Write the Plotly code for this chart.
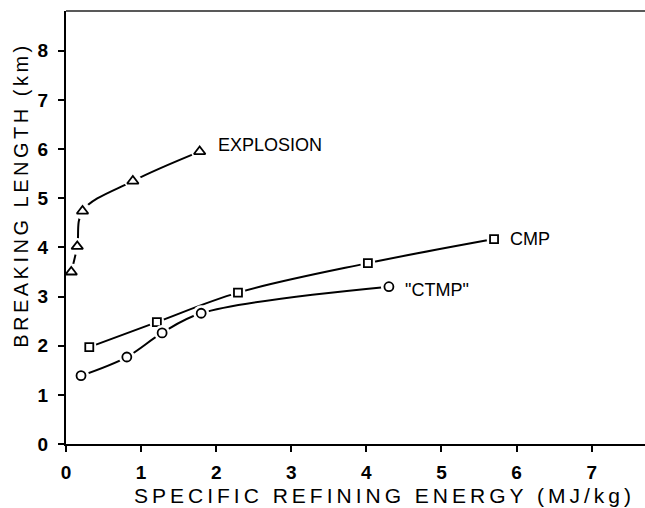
import plotly.graph_objects as go

# ---- data ----
explosion_x = [0.07, 0.15, 0.22, 0.89, 1.78]
explosion_y = [3.50, 4.02, 4.74, 5.35, 5.95]

cmp_x = [0.31, 1.21, 2.29, 4.02, 5.70]
cmp_y = [1.97, 2.48, 3.08, 3.68, 4.17]

ctmp_x = [0.20, 0.81, 1.28, 1.80, 4.30]
ctmp_y = [1.39, 1.77, 2.26, 2.66, 3.20]

series_names = ["EXPLOSION", "CMP", '"CTMP"']
label_x = [2.00, 5.89, 4.49]
label_y = [6.08, 4.17, 3.14]

x_ticks = [0, 1, 2, 3, 4, 5, 6, 7]
y_ticks = [0, 1, 2, 3, 4, 5, 6, 7, 8]

x_title = "SPECIFIC REFINING ENERGY (MJ/kg)"
y_title = "BREAKING LENGTH (km)"

FONT = "Liberation Sans, Arial, sans-serif"

fig = go.Figure()

series = [
    (explosion_x, explosion_y, "triangle-up-open", 10),
    (cmp_x, cmp_y, "square-open", 8),
    (ctmp_x, ctmp_y, "circle-open", 9),
]

for (xs, ys, sym, sz), name in zip(series, series_names):
    # smooth curve
    fig.add_trace(go.Scatter(x=xs, y=ys, mode="lines", name=name,
                             line=dict(color="black", width=2, shape="spline", smoothing=1.0),
                             showlegend=False, hoverinfo="skip"))
    # white halo to produce the gap around each symbol
    fig.add_trace(go.Scatter(x=xs, y=ys, mode="markers",
                             marker=dict(symbol="circle", size=sz + 7, color="white",
                                         line=dict(width=0)),
                             showlegend=False, hoverinfo="skip"))
    # open symbol
    fig.add_trace(go.Scatter(x=xs, y=ys, mode="markers", name=name,
                             marker=dict(symbol=sym, size=sz, color="black",
                                         line=dict(width=1.8, color="black")),
                             showlegend=False))

for name, lx, ly in zip(series_names, label_x, label_y):
    fig.add_annotation(x=lx, y=ly, text=name, showarrow=False,
                       xanchor="left", yanchor="middle",
                       font=dict(family=FONT, size=18, color="black"))

# axis titles
fig.add_annotation(x=0.55, y=-0.12, xref="paper", yref="paper", text=x_title,
                   showarrow=False, xanchor="center", yanchor="middle",
                   font=dict(family=FONT, size=21, color="black"))
fig.add_annotation(x=-0.078, y=0.575, xref="paper", yref="paper", text=y_title,
                   showarrow=False, textangle=-90, xanchor="center", yanchor="middle",
                   font=dict(family=FONT, size=20, color="black"))

# top border line
fig.add_shape(type="line", xref="paper", yref="paper", x0=0, x1=1, y0=1, y1=1,
              line=dict(color="#222222", width=1.5))

axis_common = dict(showgrid=False, zeroline=False, showline=True, linecolor="black",
                   linewidth=2, ticks="outside", ticklen=6, tickwidth=2, tickcolor="black",
                   tickfont=dict(family=FONT, size=19, color="black", weight="bold"))

fig.update_xaxes(range=[0, 7.71], tickvals=x_ticks, ticklabelstandoff=4, **axis_common)
fig.update_yaxes(range=[0, 8.81], tickvals=y_ticks, ticklabelstandoff=6, **axis_common)

fig.update_layout(width=645, height=508,
                  margin=dict(l=66, r=0, t=11, b=64),
                  paper_bgcolor="white", plot_bgcolor="white",
                  showlegend=False)

js = """
document.querySelectorAll('text.annotation-text').forEach(function(t){
  var s = t.textContent;
  if (s.indexOf('SPECIFIC') === 0) { t.style.letterSpacing = '4px'; }
  if (s.indexOf('BREAKING') === 0) { t.style.letterSpacing = '3.5px'; }
});
"""

fig.write_html("out.html", post_script=js)
